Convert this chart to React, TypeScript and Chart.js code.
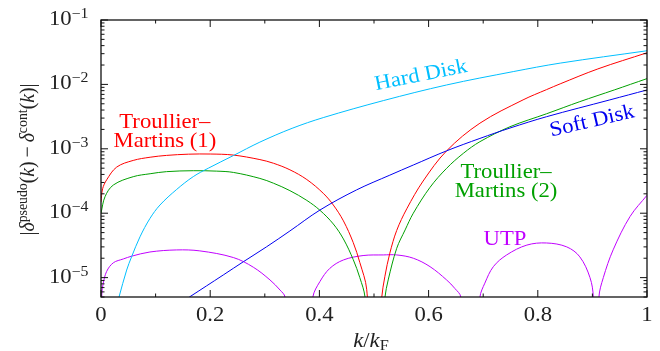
import React, { useEffect, useRef } from "react";
import { Chart, registerables } from "chart.js";

Chart.register(...registerables);

// ---------- axis / tick data ----------
const xTickValues = [0, 0.2, 0.4, 0.6, 0.8, 1];
const xTickLabels = ["0", "0.2", "0.4", "0.6", "0.8", "1"];
const xMinorTickValues = [0.1, 0.3, 0.5, 0.7, 0.9];
const yDecadeValues = [1e-1, 1e-2, 1e-3, 1e-4, 1e-5];
const yDecadeExpLabels = ["−1", "−2", "−3", "−4", "−5"];
const yMinorMultipliers = [2, 3, 4, 5, 6, 7, 8, 9];
const yMinorDecades = [1e-6, 1e-5, 1e-4, 1e-3, 1e-2];
const xMin = 0;
const xMax = 1;
const yMin = 5e-6;
const yMax = 1e-1;

// ---------- series (k / k_F, |delta^pseudo - delta^cont|) ----------
const hardDiskK = [0.03, 0.033, 0.047, 0.056, 0.0714, 0.0897, 0.108, 0.1386, 0.169, 0.1966, 0.2424, 0.291, 0.35, 0.407, 0.517, 0.633, 0.755, 0.841, 1];
const hardDiskV = [4e-6, 5e-6, 1.31e-5, 2.1e-5, 4.3e-5, 8.3e-5, 1.34e-4, 2.34e-4, 3.7e-4, 5.0e-4, 7.85e-4, 1.27e-3, 2.08e-3, 3.05e-3, 5.6e-3, 9.8e-3, 1.58e-2, 2.14e-2, 3.33e-2];

const softDiskK = [0.15, 0.162, 0.224, 0.261, 0.303, 0.346, 0.401, 0.468, 0.529, 0.572, 0.633, 0.694, 0.749, 0.816, 0.932, 1];
const softDiskV = [4.3e-6, 5e-6, 1.1e-5, 1.77e-5, 3.0e-5, 5.3e-5, 1.12e-4, 2.3e-4, 3.9e-4, 5.6e-4, 9.3e-4, 1.45e-3, 2.1e-3, 3.15e-3, 5.75e-3, 8.2e-3];

const tm1K = [0, 0.003, 0.0104, 0.0287, 0.059, 0.09, 0.12, 0.16, 0.2, 0.242, 0.291, 0.316, 0.346, 0.377, 0.407, 0.4255, 0.444, 0.462, 0.474, 0.4866, 0.5, 0.514, 0.52, 0.529, 0.5416, 0.56, 0.59, 0.633, 0.694, 0.773, 0.816, 0.841, 0.91, 1];
const tm1V = [1.5e-4, 2.4e-4, 3.3e-4, 5.2e-4, 6.6e-4, 7.4e-4, 7.9e-4, 8.25e-4, 8.3e-4, 8.0e-4, 6.8e-4, 5.96e-4, 4.72e-4, 3.33e-4, 2.04e-4, 1.34e-4, 7.6e-5, 3.49e-5, 1.72e-5, 6.6e-6, 1e-7, 4.8e-6, 1.05e-5, 2.4e-5, 5.4e-5, 1.17e-4, 3.16e-4, 9.3e-4, 2.5e-3, 5.75e-3, 8.3e-3, 1.02e-2, 1.74e-2, 3.1e-2];

const tm2K = [0, 0.0073, 0.0226, 0.059, 0.09, 0.12, 0.169, 0.212, 0.2424, 0.291, 0.316, 0.346, 0.377, 0.401, 0.4255, 0.444, 0.462, 0.474, 0.4835, 0.5, 0.52, 0.526, 0.5416, 0.557, 0.572, 0.6026, 0.633, 0.6636, 0.694, 0.749, 0.816, 0.877, 0.94, 1];
const tm2V = [1.0e-4, 1.8e-4, 2.74e-4, 3.69e-4, 4.1e-4, 4.42e-4, 4.57e-4, 4.5e-4, 4.3e-4, 3.47e-4, 2.92e-4, 2.24e-4, 1.58e-4, 1.11e-4, 6.8e-5, 3.98e-5, 1.9e-5, 1.0e-5, 5.0e-6, 1e-7, 4.9e-6, 9.2e-6, 2.85e-5, 5.5e-5, 1.0e-4, 2.52e-4, 4.98e-4, 8.5e-4, 1.29e-3, 2.2e-3, 3.5e-3, 5.4e-3, 8.2e-3, 1.23e-2];

const utpK = [0, 0.0015, 0.004, 0.0104, 0.0226, 0.041, 0.056, 0.0897, 0.1386, 0.181, 0.2424, 0.279, 0.3095, 0.328, 0.337, 0.362, 0.388, 0.401, 0.419, 0.444, 0.48, 0.517, 0.5416, 0.572, 0.6026, 0.633, 0.648, 0.659, 0.676, 0.694, 0.703, 0.7186, 0.743, 0.78, 0.816, 0.853, 0.877, 0.8956, 0.9016, 0.906, 0.912, 0.92, 0.938, 0.969, 1];
const utpV = [1e-7, 5.5e-6, 8.1e-6, 1.25e-5, 1.7e-5, 1.95e-5, 2.15e-5, 2.5e-5, 2.69e-5, 2.6e-5, 2.05e-5, 1.45e-5, 9.2e-6, 6.4e-6, 5e-6, 1e-7, 5e-6, 8.7e-6, 1.39e-5, 1.88e-5, 2.2e-5, 2.25e-5, 2.25e-5, 2.0e-5, 1.48e-5, 9.2e-6, 6.8e-6, 5e-6, 1e-7, 5e-6, 8.2e-6, 1.48e-5, 2.25e-5, 3.2e-5, 3.45e-5, 3.0e-5, 2.1e-5, 1.0e-5, 5e-6, 1e-7, 5e-6, 1.0e-5, 2.7e-5, 8.9e-5, 1.9e-4];

// ---------- colours ----------
const HARD = "#00BFFF";
const SOFT = "#0000F0";
const TM1 = "#FF0000";
const TM2 = "#00A000";
const UTP = "#C000FF";

// ---------- in-plot labels (anchored in data coords: baseline of the first line) ----------
const curveLabels = [
  { lines: ["Hard Disk"], k: 0.588, v: 1.13e-2, rot: -11.5, color: HARD },
  { lines: ["Soft Disk"], k: 0.9017, v: 2.2e-3, rot: -13, color: SOFT },
  { lines: ["Troullier–", "Martins (1)"], k: 0.117, v: 2.1e-3, rot: 0, color: TM1 },
  { lines: ["Troullier–", "Martins (2)"], k: 0.7418, v: 3.48e-4, rot: 0, color: TM2 },
  { lines: ["UTP"], k: 0.74, v: 3.18e-5, rot: 0, color: UTP },
];

const FONT = '"Liberation Serif", "Times New Roman", Tinos, serif';
const SX = 1.08;

type Seg = { t?: string; it?: boolean; sc?: number; dy?: number; gap?: number };

function segFont(size: number, s: Seg) {
  return `${s.it ? "italic " : ""}${(size * (s.sc ?? 1)).toFixed(2)}px ${FONT}`;
}

function richWidth(ctx: CanvasRenderingContext2D, segs: Seg[], size: number) {
  let w = 0;
  for (const s of segs) {
    if (s.gap) {
      w += s.gap * size;
      continue;
    }
    ctx.font = segFont(size, s);
    w += ctx.measureText(s.t || "").width;
  }
  return w;
}

function drawRich(
  ctx: CanvasRenderingContext2D,
  segs: Seg[],
  x: number,
  y: number,
  size: number,
  align: "left" | "center" | "right",
  sx: number = SX
) {
  const w = richWidth(ctx, segs, size);
  let cx = align === "center" ? -w / 2 : align === "right" ? -w : 0;
  ctx.save();
  ctx.translate(x, y);
  ctx.scale(sx, 1);
  ctx.textAlign = "left";
  ctx.textBaseline = "alphabetic";
  for (const s of segs) {
    if (s.gap) {
      cx += s.gap * size;
      continue;
    }
    ctx.font = segFont(size, s);
    ctx.fillText(s.t || "", cx, (s.dy ?? 0) * size);
    cx += ctx.measureText(s.t || "").width;
  }
  ctx.restore();
}

const decorPlugin = {
  id: "decor",
  afterDatasetsDraw(chart: any) {
    const { ctx, chartArea: a, scales } = chart;
    const xs = scales.x;
    const ys = scales.y;
    ctx.save();

    // curve labels
    for (const lab of curveLabels) {
      const px = xs.getPixelForValue(lab.k);
      const py = ys.getPixelForValue(lab.v);
      ctx.save();
      ctx.translate(px, py);
      ctx.rotate((lab.rot * Math.PI) / 180);
      ctx.fillStyle = lab.color;
      lab.lines.forEach((ln, i) => drawRich(ctx, [{ t: ln }], 0, i * 18.8, 21, "center"));
      ctx.restore();
    }

    // frame
    ctx.strokeStyle = "#111";
    ctx.lineWidth = 1.3;
    ctx.strokeRect(a.left, a.top, a.right - a.left, a.bottom - a.top);

    const line = (x1: number, y1: number, x2: number, y2: number) => {
      ctx.beginPath();
      ctx.moveTo(x1, y1);
      ctx.lineTo(x2, y2);
      ctx.stroke();
    };
    ctx.lineWidth = 1;
    xTickValues.forEach((v) => {
      const px = xs.getPixelForValue(v);
      line(px, a.bottom, px, a.bottom - 7);
      line(px, a.top, px, a.top + 7);
    });
    xMinorTickValues.forEach((v) => {
      const px = xs.getPixelForValue(v);
      line(px, a.bottom, px, a.bottom - 3.5);
      line(px, a.top, px, a.top + 3.5);
    });
    yDecadeValues.forEach((v) => {
      const py = ys.getPixelForValue(v);
      line(a.left, py, a.left + 7, py);
      line(a.right, py, a.right - 7, py);
    });
    yMinorDecades.forEach((d) => {
      yMinorMultipliers.forEach((m) => {
        const v = m * d;
        if (v < yMin * 0.999 || v > yMax * 1.001) return;
        const py = ys.getPixelForValue(v);
        line(a.left, py, a.left + 3.5, py);
        line(a.right, py, a.right - 3.5, py);
      });
    });

    // tick labels
    ctx.fillStyle = "#222";
    xTickValues.forEach((v, i) => {
      drawRich(ctx, [{ t: xTickLabels[i] }], xs.getPixelForValue(v), a.bottom + 24, 21, "center");
    });
    yDecadeValues.forEach((v, i) => {
      const py = ys.getPixelForValue(v);
      drawRich(
        ctx,
        [{ t: "10" }, { t: yDecadeExpLabels[i], sc: 0.7, dy: -0.33 }],
        a.left - 12.5,
        py + 5,
        21,
        "right"
      );
    });

    // x title
    drawRich(
      ctx,
      [{ t: "k", it: true }, { t: "/" }, { t: "k", it: true }, { t: "F", sc: 0.72, dy: 0.16 }],
      (a.left + a.right) / 2 - 3,
      a.bottom + 50,
      21,
      "center"
    );

    // y title (rotated)
    ctx.save();
    ctx.translate(34, (a.top + a.bottom) / 2 + 1);
    ctx.rotate(-Math.PI / 2);
    drawRich(
      ctx,
      [
        { t: "|" },
        { t: "δ", it: true },
        { t: "pseudo", sc: 0.7, dy: -0.34 },
        { t: "(" },
        { t: "k", it: true },
        { t: ")" },
        { gap: 0.2 },
        { t: "−" },
        { gap: 0.2 },
        { t: "δ", it: true },
        { t: "cont", sc: 0.7, dy: -0.34 },
        { t: "(" },
        { t: "k", it: true },
        { t: ")" },
        { t: "|" },
      ],
      0,
      0,
      21,
      "center",
      0.94
    );
    ctx.restore();

    ctx.restore();
  },
};

function series(label: string, ks: number[], vs: number[], color: string) {
  return {
    label,
    data: ks.map((k, i) => ({ x: k, y: vs[i] })),
    borderColor: color,
    backgroundColor: color,
    borderWidth: 1,
    pointRadius: 0,
    fill: false,
    tension: 0.35,
    capBezierPoints: false,
  };
}

export default function App() {
  const ref = useRef<HTMLCanvasElement>(null);
  useEffect(() => {
    if (!ref.current) return;
    const chart = new Chart(ref.current, {
      type: "line",
      data: {
        datasets: [
          series("Hard Disk", hardDiskK, hardDiskV, HARD),
          series("Soft Disk", softDiskK, softDiskV, SOFT),
          series("Troullier–Martins (2)", tm2K, tm2V, TM2),
          series("Troullier–Martins (1)", tm1K, tm1V, TM1),
          series("UTP", utpK, utpV, UTP),
        ],
      },
      options: {
        animation: false,
        responsive: false,
        devicePixelRatio: 1,
        layout: { padding: { left: 101, right: 13, top: 20, bottom: 54 } },
        plugins: { legend: { display: false }, tooltip: { enabled: false } },
        scales: {
          x: { type: "linear", min: xMin, max: xMax, display: false },
          y: { type: "logarithmic", min: yMin, max: yMax, display: false },
        },
      },
      plugins: [decorPlugin],
    });
    return () => chart.destroy();
  }, []);
  return (
    <div style={{ position: "absolute", left: 0, top: 0, width: 660, height: 351, background: "#fff" }}>
      <canvas ref={ref} width={660} height={351} style={{ display: "block" }} />
    </div>
  );
}
